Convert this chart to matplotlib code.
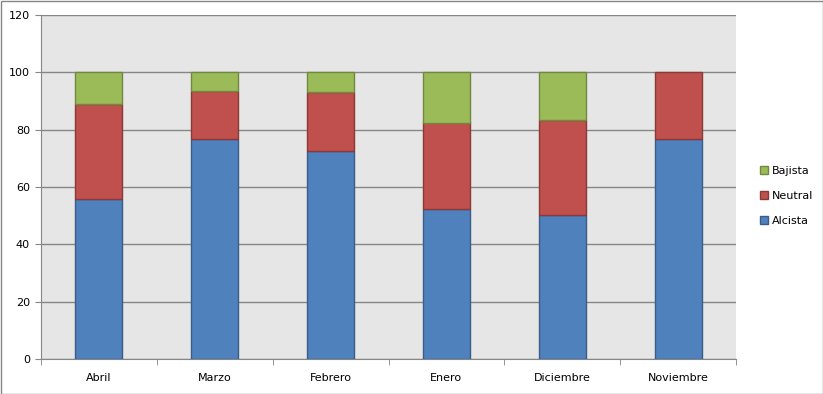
import numpy as np
import matplotlib
matplotlib.use('Agg')
from matplotlib import pyplot as plt
from matplotlib.patches import Patch, Rectangle

months = ['Abril', 'Marzo', 'Febrero', 'Enero', 'Diciembre', 'Noviembre']
alcista = [55.8, 76.7, 72.5, 52.2, 50.1, 76.7]
neutral = [33.1, 16.8, 20.6, 30.3, 33.1, 23.3]
bajista = [11.1, 6.5, 6.9, 17.5, 16.8, 0.0]

colors = ['#4F81BD', '#C0504D', '#9BBB59']
edges = ['#385D8A', '#8C3836', '#71893F']
names = ['Alcista', 'Neutral', 'Bajista']

plt.rcParams['font.family'] = ['DejaVu Sans']

fig = plt.figure(figsize=(8.23, 3.94), dpi=100)
ax = fig.add_axes([41/823, 35/394, 695/823, 344/394])
ax.set_facecolor('#E6E6E6')

x = np.arange(len(months))
bottom = np.zeros(len(months))
for vals, c, e in zip([alcista, neutral, bajista], colors, edges):
    vals = np.array(vals)
    mask = vals > 0
    ax.bar(x[mask], vals[mask], width=0.405, bottom=bottom[mask], color=c,
           edgecolor=e, linewidth=1, zorder=3)
    bottom += vals

ax.set_xlim(-0.5, len(months) - 0.5)
ax.set_ylim(0, 120)
ax.set_yticks(range(0, 121, 20))
ax.yaxis.grid(True, color='#868686', linewidth=1, zorder=0)
ax.set_xticks(x)
ax.set_xticklabels(months)
ax.set_xticks(np.arange(-0.5, len(months)), minor=True)
ax.tick_params(axis='x', which='major', length=0, pad=10, labelsize=8)
ax.tick_params(axis='x', which='minor', length=4, color='#868686')
ax.tick_params(axis='y', length=4, color='#868686', labelsize=8, pad=4)
for s in ['top', 'right']:
    ax.spines[s].set_visible(False)
for s in ['left', 'bottom']:
    ax.spines[s].set_color('#868686')

handles = [Patch(facecolor=colors[i], edgecolor=edges[i], label=names[i]) for i in [2, 1, 0]]
fig.legend(handles=handles, loc='center left', bbox_to_anchor=(750/823, 1 - 196/394),
           frameon=False, fontsize=8, handlelength=0.7, handleheight=0.7,
           handletextpad=0.4, labelspacing=1.35)

fig.patches.append(Rectangle((0.5/823, 0.5/394), 1 - 1/823, 1 - 1/394, transform=fig.transFigure,
                             fill=False, edgecolor='#868686', linewidth=1))

fig.savefig('out.png', dpi=100)
